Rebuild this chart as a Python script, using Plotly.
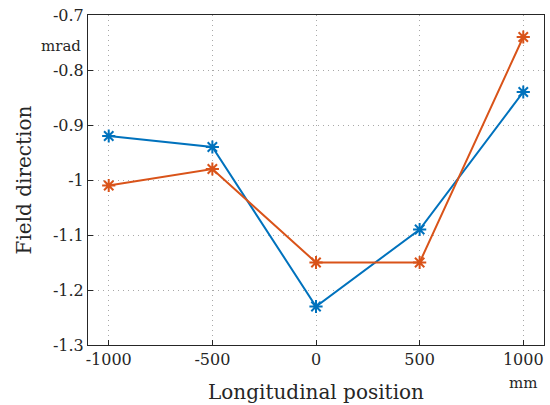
import plotly.graph_objects as go

positions = [-1000, -500, 0, 500, 1000]
blue_vals = [-0.92, -0.94, -1.23, -1.09, -0.84]
orange_vals = [-1.01, -0.98, -1.15, -1.15, -0.74]
x_ticks = [-1000, -500, 0, 500, 1000]
x_labels = ["-1000", "-500", "0", "500", "1000"]
y_ticks = [-1.3, -1.2, -1.1, -1.0, -0.9, -0.8, -0.7]
y_labels = ["-1.3", "-1.2", "-1.1", "-1", "-0.9", "-0.8", "-0.7"]

FONT = "DejaVu Serif, Liberation Serif, serif"
fig = go.Figure()
for vals, col in [(blue_vals, "#0072BD"), (orange_vals, "#D95319")]:
    fig.add_trace(go.Scatter(
        x=positions, y=vals, mode="lines+markers",
        line=dict(color=col, width=2),
        marker=dict(symbol="asterisk-open", size=11, color=col, line=dict(color=col, width=2)),
        showlegend=False))

axis_common = dict(showline=True, linecolor="#262626", linewidth=1, mirror=True,
                   ticks="inside", ticklen=5, tickcolor="#262626",
                   showgrid=True, gridcolor="#a8a8a8", griddash="1px,4px", gridwidth=1,
                   zeroline=False, tickfont=dict(family=FONT, size=16, color="#262626"))
fig.update_xaxes(range=[-1100, 1100], tickvals=x_ticks, ticktext=x_labels,
                 title=dict(text="Longitudinal position", font=dict(family=FONT, size=20, color="#262626"), standoff=16),
                 **axis_common)
fig.update_yaxes(range=[-1.3, -0.7], tickvals=y_ticks, ticktext=y_labels,
                 title=dict(text="Field direction", font=dict(family=FONT, size=20, color="#262626"), standoff=15),
                 **axis_common)
fig.add_annotation(text="mrad", xref="paper", yref="paper", x=-0.01, y=0.905,
                   xanchor="right", yanchor="middle", showarrow=False,
                   font=dict(family=FONT, size=15, color="#262626"))
fig.add_annotation(text="mm", xref="x", yref="paper", x=1000, y=-0.115,
                   xanchor="center", yanchor="middle", showarrow=False,
                   font=dict(family=FONT, size=15, color="#262626"))
fig.update_layout(width=550, height=405, margin=dict(l=88, r=6, t=15, b=60),
                  plot_bgcolor="white", paper_bgcolor="white")
fig.write_html("out.html")
